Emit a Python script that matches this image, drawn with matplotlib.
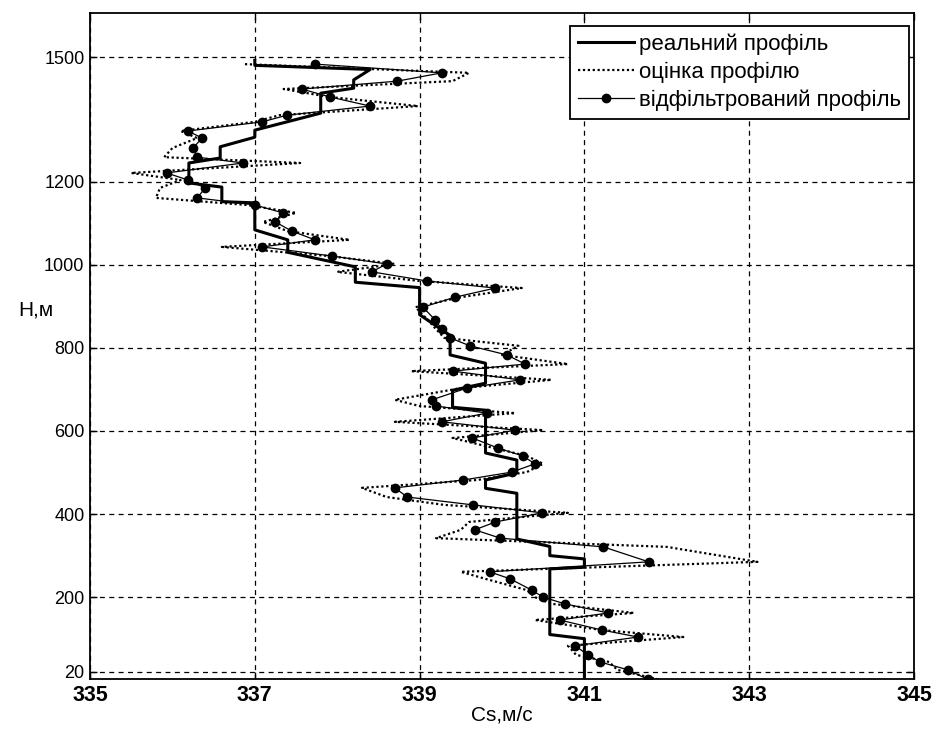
import matplotlib
matplotlib.use("Agg")
from matplotlib import pyplot as plt

# real profile (staircase vertices)
real_h = [0, 100, 110, 268, 272, 292, 300, 322, 340, 450, 462, 482, 499, 530, 547, 650, 657, 698,
          715, 763, 783, 830, 880, 945, 958, 995, 1030, 1060, 1084, 1149, 1152, 1187, 1197, 1245,
          1257, 1284, 1307, 1324, 1365, 1413, 1425, 1445, 1470, 1480, 1492]
real_cs = [341.0, 341.0, 340.58, 340.58, 341.0, 341.0, 340.58, 340.58, 340.18, 340.18, 339.8, 339.8,
           340.18, 340.18, 339.8, 339.8, 339.4, 339.4, 339.8, 339.8, 339.37, 339.37, 339.0, 339.0,
           338.22, 338.22, 337.4, 337.4, 337.0, 337.0, 336.6, 336.6, 336.2, 336.2, 336.58, 336.58,
           337.0, 337.0, 337.8, 337.8, 338.2, 338.2, 338.4, 337.0, 337.0]

# measurement heights
h = [2, 25, 44, 61, 83, 104, 121, 145, 162, 184, 200, 217, 244, 261, 285, 321, 342, 362, 381, 403,
     422, 441, 463, 482, 501, 521, 540, 559, 583, 602, 622, 643, 660, 675, 703, 723, 744, 761, 783,
     805, 824, 845, 867, 898, 922, 944, 961, 983, 1002, 1021, 1043, 1060, 1081, 1103, 1125, 1144,
     1161, 1185, 1204, 1221, 1245, 1259, 1281, 1305, 1322, 1344, 1360, 1382, 1404, 1423, 1442, 1462,
     1483]

# profile estimate (dotted)
est_cs = [341.9, 341.4, 341.3, 340.9, 340.8, 342.2, 341.2, 340.4, 341.6, 340.6, 340.4, 340.3, 339.8,
          339.5, 343.1, 342.0, 339.2, 339.5, 339.6, 340.8, 339.3, 338.6, 338.3, 339.7, 340.3, 340.5,
          340.3, 339.9, 339.4, 340.5, 338.7, 340.16, 339.0, 338.7, 339.5, 340.6, 338.9, 340.8, 340.0,
          340.2, 339.3, 339.2, 339.1, 338.95, 339.5, 340.24, 339.0, 338.0, 338.7, 337.9, 336.6,
          338.15, 337.4, 337.1, 337.5, 336.9, 335.8, 335.85, 336.1, 335.5, 337.55, 335.9, 336.0,
          336.3, 336.1, 337.0, 337.3, 338.98, 337.9, 337.35, 339.4, 339.6, 336.86]

# filtered profile (markers)
filt_cs = [341.77, 341.53, 341.19, 341.04, 340.89, 341.65, 341.21, 340.70, 341.29, 340.76, 340.50,
           340.36, 340.10, 339.85, 341.78, 341.23, 339.98, 339.67, 339.92, 340.49, 339.65, 338.85,
           338.70, 339.53, 340.12, 340.40, 340.25, 339.95, 339.64, 340.16, 339.27, 339.82, 339.20,
           339.15, 339.57, 340.22, 339.40, 340.28, 340.06, 339.61, 339.37, 339.27, 339.19, 339.04,
           339.43, 339.92, 339.09, 338.42, 338.60, 337.94, 337.09, 337.73, 337.45, 337.25, 337.34,
           337.00, 336.30, 336.40, 336.19, 335.93, 336.86, 336.30, 336.25, 336.36, 336.19, 337.09,
           337.39, 338.40, 337.91, 337.57, 338.73, 339.27, 337.73]

x_ticks = [335, 337, 339, 341, 343, 345]
y_ticks = [20, 200, 400, 600, 800, 1000, 1200, 1500]

labels = ['реальний профіль', 'оцінка профілю', 'відфільтрований профіль']

plain = ['Liberation Sans', 'DejaVu Sans']

fig = plt.figure(figsize=(9.32, 7.31), dpi=100)
ax = fig.add_axes([90 / 932, 52 / 731, 824 / 932, 666 / 731])

ax.plot(real_cs, real_h, color='black', lw=2.2, label=labels[0], zorder=3)
ax.plot(est_cs, h, color='black', lw=1.6, linestyle=(0, (1, 1.2)), label=labels[1], zorder=2)
ax.plot(filt_cs, h, color='black', lw=0.9, marker='o', markersize=6, label=labels[2], zorder=4)

ax.set_xlim(335, 345)
ax.set_ylim(3, 1606)
ax.set_xticks(x_ticks)
ax.set_yticks(y_ticks)
ax.set_xticklabels([str(v) for v in x_ticks], family=plain, fontsize=15.5, fontweight='bold')
ax.set_yticklabels([str(v) for v in y_ticks], family=plain, fontsize=13)
ax.tick_params(direction='in', length=5, width=1, top=True, right=True, pad=4)
ax.grid(True, color='black', linestyle=(0, (4, 3.5)), lw=0.9)
for s in ax.spines.values():
    s.set_linewidth(1.3)

ax.set_xlabel('Cs,м/с', family=plain, fontsize=15, labelpad=0)
ax.set_ylabel('H,м', family=plain, fontsize=15, rotation=0)
ax.yaxis.set_label_coords(-0.066, 0.54)

leg = ax.legend(loc='upper right', bbox_to_anchor=(0.994, 0.981), borderaxespad=0,
                fancybox=False, framealpha=1, edgecolor='black', handlelength=2.5,
                prop={'family': plain, 'size': 16}, labelspacing=0.3, borderpad=0.35,
                handletextpad=0.25)
leg.get_frame().set_linewidth(1.3)

fig.savefig('out.png', dpi=100)
